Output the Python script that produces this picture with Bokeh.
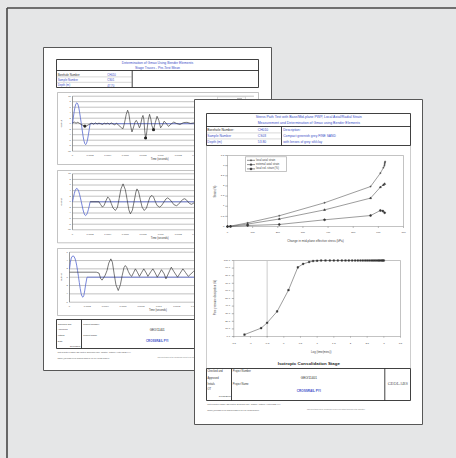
import math
from bokeh.plotting import figure
from bokeh.models import Range1d, ColumnDataSource
from bokeh.core.properties import value
from bokeh.embed import file_html
from bokeh.resources import INLINE

# ======================= DATA =======================
# --- back page: bender element traces (time in seconds, output) ---
wave_xticks = [0, 0.0002, 0.0004, 0.0006, 0.0008, 0.001, 0.0012, 0.0014, 0.0016, 0.0018, 0.002]
wave_xlabels = ["0", "0.0002", "0.0004", "0.0006", "0.0008", "0.001", "0.0012", "0.0014", "0.0016", "0.0018", "0.002"]
wave_yticks_10 = [10, 8, 6, 4, 2, 0, -2, -4, -6, -8, -10]
wave_yticks_6 = [6, 4, 2, 0, -2, -4, -6]

in1_t = [0, 0.00001, 0.00002, 0.00003, 0.00004, 0.00005, 0.00006, 0.00007, 0.00008, 0.00009, 0.0001,
         0.00011, 0.00012, 0.00013, 0.00014, 0.00015, 0.00016, 0.00017, 0.00018, 0.00019, 0.0002, 0.002]
in1_v = [0, 2.4, 4.6, 6.3, 7.3, 7.6, 7.2, 6.1, 4.3, 2.2, 0,
         -2.3, -4.5, -6.2, -7.3, -7.6, -7.1, -5.9, -4.1, -2.1, 0, 0]
out1_t = [0, 0.00002, 0.00004, 0.00006, 0.00008, 0.0001, 0.00012, 0.00014, 0.00016, 0.00018,
          0.0002, 0.00022, 0.00024, 0.00026, 0.00028, 0.0003, 0.00032, 0.00034, 0.00036, 0.00038,
          0.0004, 0.00042, 0.00044, 0.00046, 0.00048, 0.0005, 0.00052, 0.00054,
          0.00056, 0.000574, 0.00059, 0.00061, 0.000626, 0.00064, 0.00066, 0.000675, 0.00069, 0.00071,
          0.000724, 0.00074, 0.00076, 0.00077, 0.00079, 0.0008, 0.00081, 0.00082, 0.00083, 0.00084,
          0.00086, 0.000875, 0.00089, 0.0009, 0.00092, 0.00094, 0.00096, 0.00098, 0.001, 0.00102,
          0.00104, 0.00106, 0.00109, 0.00112, 0.00115, 0.00118, 0.00122, 0.00126, 0.0013, 0.00134,
          0.00138, 0.00142]
out1_v = [0.3, 0.6, 0.2, 0.5, 0.1, -0.3, -0.6, -0.9, -0.8, -0.4,
          -0.1, 0.2, -0.2, 0.3, -0.1, 0.2, 0.0, -0.3, 0.2, -0.1,
          0.2, -0.2, 0.3, -0.1, -0.4, 0.2, -0.5, -1.0,
          -1.6, -1.8, 0.2, 3.4, 4.9, 3.6, -0.8, -3.0, -1.6, 0.6,
          1.2, 0.3, -1.5, -0.8, 2.2, 3.0, 1.6, -2.6, -5.2, -3.8,
          1.4, 3.4, 1.6, -0.6, -2.2, 0.4, 2.7, 1.2, -1.5, -0.6,
          0.9, 0.3, -1.0, -0.1, 0.6, 0.1, -0.3, 0.4, 0.5, 0.1,
          0.3, 0.0]
pick1_t = [0.00014, 0.00083, 0.00092]
pick1_v = [-0.9, -5.2, -2.2]

in2_t = [0, 0.00001, 0.00002, 0.00003, 0.00004, 0.00005, 0.00006, 0.00007, 0.00008, 0.00009, 0.0001,
         0.00011, 0.00012, 0.00013, 0.00014, 0.00015, 0.00016, 0.00017, 0.00018, 0.00019, 0.0002, 0.002]
in2_v = [0, 1.5, 2.9, 4.0, 4.6, 4.8, 4.5, 3.8, 2.7, 1.4, 0,
         -1.5, -2.9, -4.0, -4.7, -4.9, -4.6, -3.9, -2.8, -1.5, 0, 0]
out2_t = [0.0002, 0.0003, 0.00032, 0.00034, 0.00036, 0.00038, 0.0004, 0.00042, 0.00044, 0.00046,
          0.000487, 0.00051, 0.00053, 0.00055, 0.000574, 0.0006, 0.00062, 0.00064, 0.000657, 0.00068,
          0.0007, 0.00072, 0.000732, 0.00075, 0.00077, 0.00079, 0.000815, 0.00084, 0.00086, 0.00088,
          0.000902, 0.00092, 0.00094, 0.00096, 0.000989, 0.00101, 0.00104, 0.00106, 0.00108, 0.0011,
          0.00113, 0.00115, 0.00118, 0.0012, 0.00123, 0.00125, 0.00127, 0.00129, 0.00131, 0.00133,
          0.00135, 0.00137, 0.00139, 0.00141, 0.00143]
out2_v = [0, 0, -1.0, -1.9, -1.2, 0.4, 1.7, 1.1, -0.6, -2.2,
          -3.1, -2.0, 1.2, 4.6, 6.4, 4.3, 0.8, -2.9, -4.3, -3.0,
          0.2, 3.5, 4.6, 3.6, 0.8, -1.9, -3.1, -2.2, -0.1, 1.7,
          2.3, 1.7, 0.1, -1.3, -1.9, -1.4, 0, 1.0, 1.4, 1.0,
          -0.1, -1.0, -1.4, -1.0, 0.1, 0.8, 1.1, 0.8, 0, -0.6,
          -0.9, -0.6, 0, 0.6, 0.8]

in3_t = [0, 0.00001, 0.00002, 0.00003, 0.000045, 0.00006, 0.00007, 0.00008, 0.00009, 0.0001,
         0.00011, 0.00012, 0.00013, 0.00014, 0.00015, 0.00016, 0.00017, 0.00018, 0.000196, 0.002]
in3_v = [2.0, 3.6, 4.6, 5.0, 5.1, 4.6, 3.9, 2.9, 1.6, 0.2,
         -1.3, -2.7, -3.9, -4.6, -4.8, -4.4, -3.3, -1.9, 0, 0]
out3_t = [0, 0.0003, 0.00033, 0.00035, 0.000365, 0.00038, 0.0004, 0.00042, 0.00044, 0.000463,
          0.00048, 0.0005, 0.00052, 0.000546, 0.00057, 0.00059, 0.00061, 0.000625, 0.00064, 0.00066,
          0.00068, 0.000697, 0.00072, 0.000738, 0.00076, 0.000783, 0.00081, 0.000832, 0.00086, 0.000878,
          0.00091, 0.000934, 0.00096, 0.000983, 0.00101, 0.00103, 0.00106, 0.00108, 0.00111, 0.00114,
          0.00117, 0.00121, 0.00124, 0.00127, 0.0013, 0.00133, 0.00136, 0.00139, 0.00144]
out3_v = [1.2, 1.2, 1.0, -0.4, -0.7, -0.2, 0.5, 1.6, 3.4, 4.4,
          3.6, 0.8, -1.8, -3.2, -1.8, 0.4, 2.3, 2.8, 2.4, 1.3,
          0.5, 0.2, 1.2, 2.0, 1.2, 0.2, 1.2, 2.0, 1.0, 0.2,
          1.3, 2.0, 1.0, 0.0, 1.0, 1.8, 0.8, -0.4, 1.0, 2.4,
          1.3, 0.0, 1.0, 2.0, 1.1, 0.2, 0.8, 1.4, 0.6]

# --- front page chart 1: strain vs change in mid-plane effective stress ---
strain_series = ["local axial strain", "external axial strain", "local vol. strain (%)"]
stress_axial = [0, 12, 80, 206, 386, 569, 608, 620, 624, 625, 626, 627]
local_axial = [0, 0.02, 0.18, 0.53, 1.17, 1.97, 2.63, 2.9, 3.0, 3.08, 3.15, 3.2]
stress_ext = [0, 12, 80, 206, 386, 569, 608, 620, 625]
external_axial = [0, 0.01, 0.12, 0.37, 0.82, 1.40, 1.94, 2.05, 2.1]
stress_vol = [0, 12, 80, 206, 386, 569, 608, 618, 625]
local_vol = [0, 0.0, 0.05, 0.1, 0.33, 0.54, 0.79, 0.76, 0.68]
stress_ticks = [0, 100, 200, 300, 400, 500, 600, 700]
strain_ticks = [0, 0.5, 1, 1.5, 2, 2.5, 3, 3.5]
strain_labels = ["0", "0.5", "1", "1.5", "2", "2.5", "3", "3.5"]

# --- front page chart 2: pore pressure dissipation vs log time ---
log_time = [-1.18, -0.68, -0.5, -0.2, 0.14, 0.42, 0.58, 0.76, 0.88, 1.0,
            1.12, 1.25, 1.38, 1.5, 1.62, 1.74, 1.85, 1.95, 2.05, 2.14,
            2.22, 2.3, 2.37, 2.44, 2.5, 2.56, 2.62, 2.67, 2.72, 2.77,
            2.82, 2.86, 2.9, 2.94, 2.97, 3.0]
dissipation = [2.5, 11.0, 18.0, 33.0, 61.0, 91.0, 95.5, 98.0, 99.3, 99.7,
               100.0, 100.0, 100.0, 100.0, 100.0, 100.0, 100.0, 100.0, 100.0, 100.0,
               100.0, 100.0, 100.0, 100.0, 100.0, 100.0, 100.0, 100.0, 100.0, 100.0,
               100.0, 100.0, 100.0, 100.0, 100.0, 100.0]
log_ticks = [-1.5, -1, -0.5, 0, 0.5, 1, 1.5, 2, 2.5, 3, 3.5]
log_labels = ["-1.5", "-1", "-0.5", "0", "0.5", "1", "1.5", "2", "2.5", "3", "3.5"]
diss_ticks = [0, 10, 20, 30, 40, 50, 60, 70, 80, 90, 100]
diss_labels = ["0.0", "10.0", "20.0", "30.0", "40.0", "50.0", "60.0", "70.0", "80.0", "90.0", "100.0"]
t100_marker = -0.5

# --- texts ---
back_title = ["Determination of Gmax Using Bender Elements", "Stage Traces - Pre-Test Mean"]
back_labels = ["Borehole Number", "Sample Number", "Depth (m)"]
back_values = ["CH010", "CS01", "47.70"]
front_title = ["Stress Path Test with Base/Mid-plane PWP, Local Axial/Radial Strain",
               "Measurement and Determination of Gmax using Bender Elements"]
front_labels = ["Borehole Number:", "Sample Number", "Depth (m)"]
front_values = ["CH010", "CS03", "53.80"]
front_desc = ["Description:", "Compact greenish grey FINE SAND", "with lenses of grey silt/clay"]
stage_title = "Isotropic Consolidation Stage"
checked_texts = ["Checked and", "Approved", "Initials", "OT"]
project_number = "GEO/11401"
project_name = "CROSSRAIL PYI"
footer_lines = ["Test Results in GEOLABS Limited, Bucknalls Lane, Garston, Watford, Herts WD25 9XX",
                "admin@geolabs.co.uk  www.geolabs.co.uk  Fax 01923 892190"]
footer_right = "This report shall not be reproduced except in full without approval of the laboratory"

# ======================= STYLE / LAYOUT =======================
W, H = 456, 458
OX, OY = 0, 0
BG = "#e5e6e7"
INK = "#2b2b2b"
BLUE_TXT = "#3a4ec8"
BLUE_LINE = "#5667cf"
GRID = "#8e8e8e"
FRAME = "#9a9a9a"
FONT = value("Liberation Sans")

p = figure(width=W, height=H, x_range=Range1d(OX, OX + W), y_range=Range1d(OY + H, OY),
           output_backend="svg", toolbar_location=None, min_border=0,
           x_axis_location=None, y_axis_location=None)
p.grid.visible = False
p.outline_line_color = None
p.background_fill_color = BG
p.border_fill_color = BG


def chart(name, xv, xp, yv, yp):
    kx = (xp[1] - xp[0]) / (xv[1] - xv[0])
    xs = xv[0] - (xp[0] - OX) / kx
    ky = (yp[0] - yp[1]) / (yv[1] - yv[0])
    ys = yv[0] - (OY + H - yp[0]) / ky
    p.extra_x_ranges = {**p.extra_x_ranges, name: Range1d(xs, xs + W / kx)}
    p.extra_y_ranges = {**p.extra_y_ranges, name: Range1d(ys, ys + H / ky)}


def txt(xs, ys, texts, size, color=INK, align="left", bold=False, angle=0.0,
        xr="default", yr="default", font=FONT, baseline="middle"):
    src = ColumnDataSource(dict(x=list(xs), y=list(ys), text=list(texts)))
    p.text("x", "y", "text", source=src, text_font=font, text_font_size=f"{size}px",
           text_color=color, text_align=align, text_baseline=baseline,
           text_font_style="bold" if bold else "normal", angle=angle,
           x_range_name=xr, y_range_name=yr)


def box(l, r, t, b, fill=None, line=INK, w=0.8, xr="default", yr="default"):
    p.quad(left=[l], right=[r], top=[t], bottom=[b], fill_color=fill,
           line_color=line, line_width=w, x_range_name=xr, y_range_name=yr)


def seg(x0, y0, x1, y1, color=INK, w=0.8, dash="solid", xr="default", yr="default"):
    p.segment(x0=list(x0), y0=list(y0), x1=list(x1), y1=list(y1), line_color=color,
              line_width=w, line_dash=dash, x_range_name=xr, y_range_name=yr)


# outer frame of the picture
seg([6.5, 6.5], [7.5, 7.5], [6.5, 456], [458, 7.5], color="#474747", w=1.6)

# ======================= BACK PAGE =======================
box(43, 271, 47, 370, fill="white", line="#575757", w=1.0)
# header
box(56, 258, 59, 87, line=INK, w=0.9)
seg([56, 131.7], [70, 70], [258, 131.7], [70, 87], w=0.9)
seg([56, 56], [76.4, 81.8], [131.7, 131.7], [76.4, 81.8], color="#9a9a9a", w=0.4)
txt([157, 157], [62.4, 67.4], back_title, 3.4, color=BLUE_TXT, align="center")
txt([57.2], [73.6], back_labels[:1], 2.8, color=INK)
txt([57.2, 57.2], [79.1, 84.5], back_labels[1:], 2.8, color=BLUE_TXT)
txt([106.7] * 3, [73.6, 79.1, 84.5], back_values, 2.8, color=BLUE_TXT)

panels = [
    dict(name="b1", box=(57, 258, 92, 164), xp=(72, 177.7), xv=(0, 0.0012), yv=(-10, 10), yp=(150.7, 95.7),
         yt=wave_yticks_10, it=in1_t, iv=in1_v, ot=out1_t, ov=out1_v),
    dict(name="b2", box=(57, 258, 170, 242.3), xp=(72, 177.7), xv=(0, 0.0012), yv=(-10, 10), yp=(229.3, 173.3),
         yt=wave_yticks_10, it=in2_t, iv=in2_v, ot=out2_t, ov=out2_v),
    dict(name="b3", box=(57, 258, 248, 315), xp=(69, 158.3), xv=(0, 0.001), yv=(-6, 6), yp=(301.7, 251.7),
         yt=wave_yticks_6, it=in3_t, iv=in3_v, ot=out3_t, ov=out3_v),
]
for pn in panels:
    n = pn["name"]
    chart(n, pn["xv"], pn["xp"], pn["yv"], pn["yp"])
    l, r, t, b = pn["box"]
    box(l, r, t, b, line=FRAME, w=0.6)
    yt = pn["yt"]
    xmax = 0.00206
    seg([0] * len(yt), yt, [xmax] * len(yt), yt, color=GRID, w=0.55, xr=n, yr=n)
    seg([0], [min(yt)], [0], [max(yt)], color="#555555", w=0.6, xr=n, yr=n)
    txt([pn["xp"][0] - 1.6] * len(yt), yt, [str(v) for v in yt], 2.3, color="#444444", align="right", yr=n)
    txt(wave_xticks, [pn["yp"][0] + 4.6] * len(wave_xticks), wave_xlabels, 2.3, color="#444444",
        align="center", xr=n)
    txt([0.00099], [pn["yp"][0] + 8.7], ["Time (seconds)"], 2.6, color="#333333", align="center", xr=n)
    txt([61], [(pn["yp"][0] + pn["yp"][1]) / 2], ["Output"], 2.4, color="#333333", align="center",
        angle=math.pi / 2)
    p.line(pn["it"], pn["iv"], line_color=BLUE_LINE, line_width=0.8, x_range_name=n, y_range_name=n)
    p.line(pn["ot"], pn["ov"], line_color="#303030", line_width=0.65, line_join="round",
           x_range_name=n, y_range_name=n)

p.scatter(pick1_t, pick1_v, marker="square", size=1.8, color="#222222", x_range_name="b1", y_range_name="b1")
box(217, 245, 96.3, 100.7, fill="white", line="#a8a8a8", w=0.4)
txt([219], [98.5], ["Pre-Test Mean"], 1.9, color="#666666")
seg([236.5], [98.5], [241.5], [98.5], color="#333333", w=0.6)

# back footer
box(56, 258, 319, 348, line=INK, w=0.9)
seg([81], [319], [81], [348], w=0.9)
txt([57.3] * 4, [323.3, 329, 334.8, 340.3], checked_texts[:3] + ["Date"], 2.3, color="#333333")
txt([80], [345.6], ["29/03/2007"], 2.1, color="#333333", align="right")
txt([82.7, 82.7], [323.3, 335], ["Project Number", "Project Name"], 2.3, color="#333333")
txt([156.7], [329], [project_number], 2.9, color="#222222", align="center")
txt([156.7], [340], [project_name], 2.9, color=BLUE_TXT, align="center", bold=True)
txt([57, 57], [351.7, 357.3], footer_lines, 1.9, color="#555555")
txt([157], [357.3], [footer_right], 1.6, color="#777777")

# ======================= FRONT PAGE =======================
box(194, 422, 99, 424, fill="white", line="#575757", w=1.0)
seg([206, 410], [145, 145], [206, 410], [368, 368], color="#9a9a9a", w=0.5)
# header
box(206, 410, 113, 145, line=INK, w=0.9)
seg([206, 281], [126, 126], [410, 281], [126, 145], w=0.9)
seg([206, 206], [132.4, 138.4], [281, 281], [132.4, 138.4], color="#a0a0a0", w=0.4)
txt([308.3, 308.3], [116.8, 122.4], front_title, 3.5, color=BLUE_TXT, align="center")
txt([206.8], [129.3], front_labels[:1], 3.3, color=INK)
txt([206.8, 206.8], [135.5, 141.3], front_labels[1:], 3.3, color=BLUE_TXT)
txt([257.3] * 3, [129.3, 135.5, 141.3], front_values, 3.3, color=BLUE_TXT)
txt([282.7] * 3, [129.3, 135.5, 141.3], front_desc, 3.3, color=BLUE_TXT)

# ---- chart 1 ----
chart("f1", (0, 700), (227, 403), (0, 3.5), (226, 155))
box(0, 700, 3.5, 0, line=FRAME, w=0.6, xr="f1", yr="f1")
seg([0] * 7, strain_ticks[1:], [-9] * 7, strain_ticks[1:], color="#666666", w=0.5, xr="f1", yr="f1")
seg(stress_ticks, [0] * 8, stress_ticks, [-0.07] * 8, color="#666666", w=0.5, xr="f1", yr="f1")
txt([223.8] * 8, strain_ticks, strain_labels, 2.5, color="#444444", align="right", yr="f1")
txt(stress_ticks, [232.3] * 8, [str(v) for v in stress_ticks], 2.5, color="#444444", align="center", xr="f1")
txt([315], [240], ["Change in mid-plane effective stress (kPa)"], 3.0, color="#444444", align="center")
txt([215.5], [191], ["Strain (%)"], 2.7, color="#444444", align="center", angle=math.pi / 2)
series = [(stress_axial, local_axial, "cross"), (stress_ext, external_axial, "triangle"),
          (stress_vol, local_vol, "circle")]
for xs_, ys_, mk in series:
    p.line(xs_, ys_, line_color="#5a5a5a", line_width=0.6, x_range_name="f1", y_range_name="f1")
    p.scatter(xs_, ys_, marker=mk, size=2.0, line_color="#333333", fill_color="#333333", line_width=0.5,
              x_range_name="f1", y_range_name="f1")
# legend
box(245, 286, 156.2, 171, fill="white", line="#888888", w=0.5)
leg_y = [159.8, 164.1, 168.4]
seg([246.5] * 3, leg_y, [254.5] * 3, leg_y, color="#444444", w=0.6)
for yy, (_, _, mk) in zip(leg_y, series):
    p.scatter([250.5], [yy], marker=mk, size=2.0, line_color="#333333", fill_color="#333333", line_width=0.5)
txt([255.6] * 3, leg_y, strain_series, 2.7, color="#444444")

# ---- chart 2 ----
chart("f2", (-1.5, 3.5), (233.3, 400), (0, 100), (336, 260))
box(-1.5, 3.5, 100, 0, line=FRAME, w=0.6, xr="f2", yr="f2")
seg([-1.5] * 11, diss_ticks, [-1.56] * 11, diss_ticks, color="#666666", w=0.5, xr="f2", yr="f2")
seg(log_ticks, [0] * 11, log_ticks, [-1.5] * 11, color="#666666", w=0.5, xr="f2", yr="f2")
seg([t100_marker], [0], [t100_marker], [100], color="#555555", w=0.6, dash="1 1", xr="f2", yr="f2")
txt([229.6] * 11, diss_ticks, diss_labels, 2.5, color="#444444", align="right", yr="f2")
txt(log_ticks, [343.3] * 11, log_labels, 2.5, color="#444444", align="center", xr="f2")
txt([320.7], [350.6], ["Log (time(mins))"], 2.8, color="#444444", align="center")
txt([215.5], [297], ["Pore pressure dissipation (%)"], 2.7, color="#444444", align="center", angle=math.pi / 2)
p.line(log_time, dissipation, line_color="#5a5a5a", line_width=0.6, x_range_name="f2", y_range_name="f2")
p.scatter(log_time, dissipation, marker="square", size=1.6, line_color="#333333", fill_color="#333333",
          line_width=0.4, x_range_name="f2", y_range_name="f2")

txt([308.3], [363.3], [stage_title], 4.4, color="#1e1e1e", align="center", bold=True)

# front footer
box(206, 410, 368, 400, line=INK, w=0.9)
seg([231, 384.3], [368, 368], [231, 384.3], [400, 400], w=0.9)
txt([207] * 4, [371.2, 377.6, 383.6, 389.4], checked_texts, 2.6, color="#333333")
txt([230.3], [396], ["17/05/2007"], 2.4, color="#333333", align="right")
txt([232.3, 232.3], [371.2, 383.6], ["Project Number", "Project Name"], 2.6, color="#333333")
txt([308.3], [377.4], [project_number], 3.1, color="#222222", align="center")
txt([308.3], [389.8], [project_name], 3.1, color=BLUE_TXT, align="center", bold=True)
txt([397.3], [383.4], ["GEOLABS"], 4.4, color="#555555", align="center", font=value("Liberation Serif"))
txt([206.8, 206.8], [403.4, 409.3], footer_lines, 1.9, color="#555555")
txt([306.5], [409.3], [footer_right], 1.6, color="#777777")

html = file_html(p, INLINE)
html = html.replace("</head>", "<style>html,body{margin:0;padding:0;background:#e5e6e7;overflow:hidden}</style></head>")
open("out.html", "w").write(html)
